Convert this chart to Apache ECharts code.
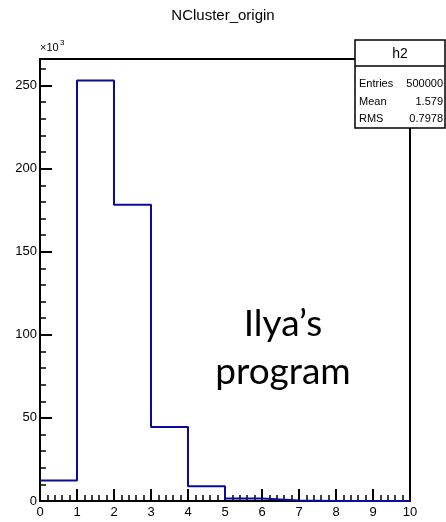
<!DOCTYPE html>
<html>
<head>
<meta charset="utf-8">
<script src="https://cdn.jsdelivr.net/npm/echarts@6/dist/echarts.min.js"></script>
<style>
  html, body { margin: 0; padding: 0; background: #fff; }
  #chart { width: 446px; height: 522px; }
</style>
</head>
<body>
<div id="chart"></div>
<script>
// histogram h2, bin counts in units of 10^3
const binEdges = [0, 1, 2, 3, 4, 5, 6, 7, 8, 9, 10]
const binCounts = [12.4, 253.0, 178.3, 44.6, 8.9, 1.5, 0.3, 0, 0, 0]
const statLabels = ['Entries', 'Mean', 'RMS']
const statValues = ['500000', '1.579', '0.7978']

// step line points: left edge of every bin, plus the right edge of the last bin
const stepData = binCounts.map((v, i) => [binEdges[i], v])
stepData.push([binEdges[binEdges.length - 1], binCounts[binCounts.length - 1]])

const chart = echarts.init(document.getElementById('chart'))
const font = 'Liberation Sans, Arial, sans-serif'

function txt(x, y, text, size, align, family) {
  return {
    type: 'text',
    x: x,
    y: y,
    z: 20,
    style: {
      text: text,
      font: size + 'px ' + (family || font),
      fill: '#000',
      align: align || 'left',
      verticalAlign: 'middle'
    }
  }
}

const statTexts = []
statLabels.forEach((label, i) => {
  statTexts.push(txt(359, 84 + i * 17.5, label, 11, 'left'))
  statTexts.push(txt(443, 84 + i * 17.5, statValues[i], 11, 'right'))
})

chart.setOption({
  backgroundColor: '#fff',
  animation: false,
  title: {
    text: 'NCluster_origin',
    left: 'center',
    top: 3,
    textStyle: { fontFamily: font, fontWeight: 'normal', fontSize: 15, color: '#000' }
  },
  grid: {
    left: 40,
    right: 36,
    top: 59,
    bottom: 21,
    show: true,
    borderColor: '#000',
    borderWidth: 2
  },
  xAxis: {
    type: 'value',
    min: 0,
    max: 10,
    interval: 1,
    axisLine: { onZero: false, lineStyle: { color: '#000', width: 2 } },
    axisTick: { inside: true, length: 12, lineStyle: { color: '#000', width: 2 } },
    minorTick: { show: true, splitNumber: 5, length: 6, lineStyle: { color: '#000', width: 1.5 } },
    splitLine: { show: false },
    axisLabel: { fontFamily: font, fontSize: 13, color: '#000', margin: 5 }
  },
  yAxis: {
    type: 'value',
    min: 0,
    max: 266,
    interval: 50,
    axisLine: { show: true, lineStyle: { color: '#000', width: 2 } },
    axisTick: { show: true, inside: true, length: 12, lineStyle: { color: '#000', width: 2 } },
    minorTick: { show: true, splitNumber: 5, length: 6, lineStyle: { color: '#000', width: 1.5 } },
    splitLine: { show: false },
    axisLabel: { fontFamily: font, fontSize: 13, color: '#000', margin: 3, showMaxLabel: false }
  },
  series: [{
    type: 'line',
    step: 'end',
    data: stepData,
    showSymbol: false,
    lineStyle: { color: '#0a0a9c', width: 2 }
  }],
  graphic: [
    txt(40, 48, '×10', 11),
    txt(60, 43, '3', 8),
    {
      type: 'rect',
      z: 10,
      shape: { x: 355, y: 40, width: 90, height: 88 },
      style: { fill: '#fff', stroke: '#000', lineWidth: 1.5 }
    },
    {
      type: 'line',
      z: 10,
      shape: { x1: 355, y1: 66, x2: 445, y2: 66 },
      style: { stroke: '#000', lineWidth: 1.5 }
    },
    txt(400, 54, 'h2', 14, 'center')
  ].concat(statTexts, [
    txt(283, 324, 'Ilya’s', 37, 'center', 'Lato, "Open Sans", sans-serif'),
    txt(283, 372, 'program', 37, 'center', 'Lato, "Open Sans", sans-serif')
  ])
})
</script>
</body>
</html>
